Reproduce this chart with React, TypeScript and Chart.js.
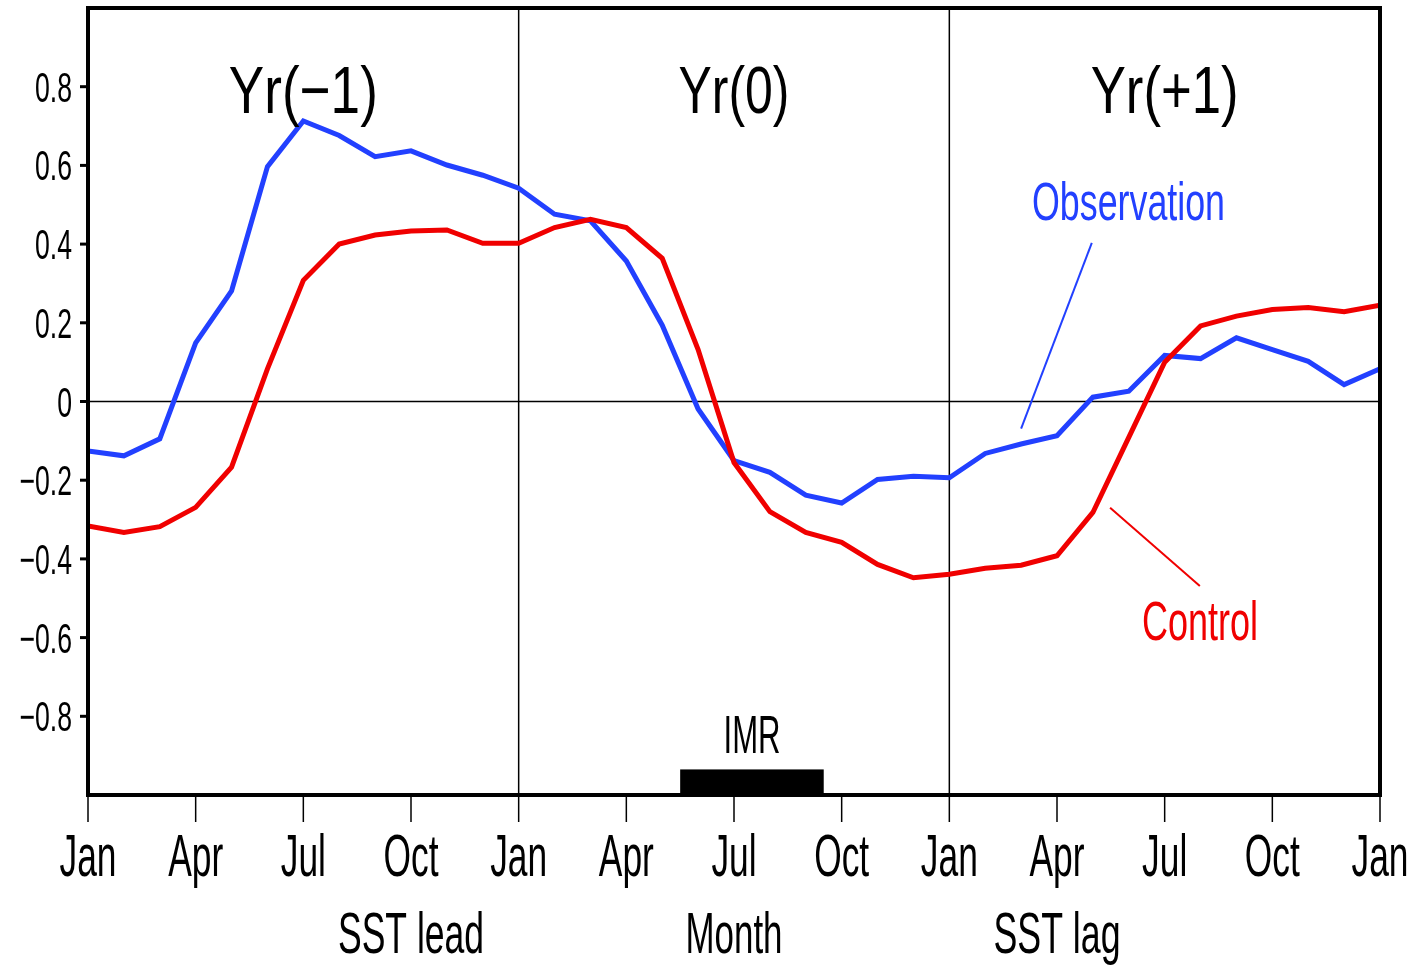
import React, { useEffect, useRef } from "react";
import { Chart, registerables } from "chart.js";

Chart.register(...registerables);

// Month index 0..36: Jan Yr(-1) ... Jan Yr(+2)
const months: number[] = Array.from({ length: 37 }, (_, i) => i);

const observation: number[] = [
  -0.126, -0.138, -0.095, 0.149, 0.281, 0.597, 0.713, 0.676, 0.622, 0.637, 0.601, 0.575,
  0.542, 0.476, 0.459, 0.357, 0.194, -0.019, -0.150, -0.180, -0.238, -0.258, -0.198, -0.190,
  -0.194, -0.132, -0.108, -0.087, 0.011, 0.026, 0.117, 0.109, 0.162, 0.132, 0.102, 0.043,
  0.083,
];

const control: number[] = [
  -0.316, -0.333, -0.318, -0.269, -0.167, 0.083, 0.308, 0.400, 0.423, 0.433, 0.436, 0.402,
  0.402, 0.442, 0.463, 0.442, 0.364, 0.132, -0.155, -0.280, -0.333, -0.358, -0.414, -0.448,
  -0.439, -0.424, -0.416, -0.392, -0.282, -0.091, 0.100, 0.192, 0.217, 0.234, 0.239, 0.228,
  0.245,
];

const xTickMonths: number[] = [0, 3, 6, 9, 12, 15, 18, 21, 24, 27, 30, 33, 36];
const xTickLabels: string[] = ["Jan", "Apr", "Jul", "Oct", "Jan", "Apr", "Jul", "Oct", "Jan", "Apr", "Jul", "Oct", "Jan"];
const yTickValues: number[] = [0.8, 0.6, 0.4, 0.2, 0, -0.2, -0.4, -0.6, -0.8];
const yTickLabels: string[] = ["0.8", "0.6", "0.4", "0.2", "0", "\u22120.2", "\u22120.4", "\u22120.6", "\u22120.8"];

const yearLabels: string[] = ["Yr(\u22121)", "Yr(0)", "Yr(+1)"];
const yearCenters: number[] = [6, 18, 30];
const yearDividers: number[] = [12, 24];
const axisTitles: string[] = ["SST lead", "Month", "SST lag"];
const axisTitleCenters: number[] = [9, 18, 27];

// IMR season bar (months) and its height (correlation units)
const imrRange: number[] = [16.5, 20.5];
const imrTop = -0.935;

const BLUE = "rgb(34,64,255)";
const RED = "rgb(240,0,0)";
const FONT = '"Liberation Sans", Arial, sans-serif';

function fitText(
  ctx: CanvasRenderingContext2D,
  text: string,
  x: number,
  baseline: number,
  capH: number,
  width: number,
  color: string,
  align: CanvasTextAlign
) {
  const px = capH / 0.716;
  ctx.save();
  ctx.font = `${px}px ${FONT}`;
  const w = ctx.measureText(text).width;
  const sx = width / w;
  ctx.translate(x, baseline);
  ctx.scale(sx, 1);
  ctx.textAlign = align;
  ctx.textBaseline = "alphabetic";
  ctx.fillStyle = color;
  ctx.fillText(text, 0, 0);
  ctx.restore();
}

function scaledText(
  ctx: CanvasRenderingContext2D,
  text: string,
  x: number,
  baseline: number,
  capH: number,
  sx: number,
  color: string,
  align: CanvasTextAlign
) {
  const px = capH / 0.716;
  ctx.save();
  ctx.font = `${px}px ${FONT}`;
  ctx.translate(x, baseline);
  ctx.scale(sx, 1);
  ctx.textAlign = align;
  ctx.textBaseline = "alphabetic";
  ctx.fillStyle = color;
  ctx.fillText(text, 0, 0);
  ctx.restore();
}

function sxFor(ctx: CanvasRenderingContext2D, text: string, capH: number, width: number) {
  const px = capH / 0.716;
  ctx.save();
  ctx.font = `${px}px ${FONT}`;
  const w = ctx.measureText(text).width;
  ctx.restore();
  return width / w;
}

const decorPlugin = {
  id: "decor",
  beforeDatasetsDraw(chart: any) {
    const { ctx, chartArea: a, scales } = chart;
    const xs = scales.x;
    const ys = scales.y;
    ctx.save();
    ctx.strokeStyle = "#000";
    ctx.lineWidth = 1.5;
    // zero line
    const y0 = ys.getPixelForValue(0);
    ctx.beginPath();
    ctx.moveTo(a.left, y0);
    ctx.lineTo(a.right, y0);
    ctx.stroke();
    // year dividers
    yearDividers.forEach((m) => {
      const px = xs.getPixelForValue(m);
      ctx.beginPath();
      ctx.moveTo(px, a.top);
      ctx.lineTo(px, a.bottom);
      ctx.stroke();
    });
    // IMR bar
    const bx0 = xs.getPixelForValue(imrRange[0]);
    const bx1 = xs.getPixelForValue(imrRange[1]);
    const by0 = ys.getPixelForValue(imrTop);
    const by1 = ys.getPixelForValue(-1);
    ctx.fillStyle = "#000";
    ctx.fillRect(bx0, by0, bx1 - bx0, by1 - by0);
    // pointer lines
    ctx.lineWidth = 2;
    ctx.strokeStyle = BLUE;
    ctx.beginPath();
    ctx.moveTo(xs.getPixelForValue(27.97), ys.getPixelForValue(0.403));
    ctx.lineTo(xs.getPixelForValue(26.0), ys.getPixelForValue(-0.069));
    ctx.stroke();
    ctx.strokeStyle = RED;
    ctx.beginPath();
    ctx.moveTo(xs.getPixelForValue(28.48), ys.getPixelForValue(-0.27));
    ctx.lineTo(xs.getPixelForValue(30.98), ys.getPixelForValue(-0.469));
    ctx.stroke();
    ctx.restore();
  },
  afterDatasetsDraw(chart: any) {
    const { ctx, chartArea: a, scales } = chart;
    const xs = scales.x;
    const ys = scales.y;
    ctx.save();
    // frame
    ctx.strokeStyle = "#000";
    ctx.lineWidth = 4;
    ctx.strokeRect(a.left, a.top, a.right - a.left, a.bottom - a.top);
    // y ticks
    ctx.lineWidth = 3;
    yTickValues.forEach((v) => {
      const py = ys.getPixelForValue(v);
      ctx.beginPath();
      ctx.moveTo(a.left - 8, py);
      ctx.lineTo(a.left, py);
      ctx.stroke();
    });
    // x ticks
    ctx.lineWidth = 1.5;
    xTickMonths.forEach((m) => {
      const px = xs.getPixelForValue(m);
      ctx.beginPath();
      ctx.moveTo(px, a.bottom);
      ctx.lineTo(px, a.bottom + 27);
      ctx.stroke();
    });
    ctx.restore();

    // y tick labels
    const ySx = sxFor(ctx, "0.8", 30, 37);
    yTickValues.forEach((v, i) => {
      const py = ys.getPixelForValue(v);
      scaledText(ctx, yTickLabels[i], 72, py + 15, 30, ySx, "#000", "right");
    });
    // x tick labels
    const xSx = sxFor(ctx, "Jan", 43, 57);
    xTickMonths.forEach((m, i) => {
      const px = xs.getPixelForValue(m);
      scaledText(ctx, xTickLabels[i], px, 876, 43, xSx, "#000", "center");
    });
    // axis titles
    const titleWidths = [146, 97, 127];
    axisTitles.forEach((t, i) => {
      fitText(ctx, t, xs.getPixelForValue(axisTitleCenters[i]), 953, 41, titleWidths[i], "#000", "center");
    });
    // year labels
    const yrWidths = [149, 111, 148];
    yearLabels.forEach((t, i) => {
      fitText(ctx, t, xs.getPixelForValue(yearCenters[i]), 113, 48, yrWidths[i], "#000", "center");
    });
    // series labels
    fitText(ctx, "Observation", 1032, 220, 38, 193, BLUE, "left");
    fitText(ctx, "Control", 1142, 640, 40, 116, RED, "left");
    fitText(ctx, "IMR", 752, 753, 38, 57, "#000", "center");
  },
};

export default function App() {
  const ref = useRef<HTMLCanvasElement | null>(null);
  useEffect(() => {
    document.body.style.margin = "0";
    const canvas = ref.current;
    if (!canvas) return;
    const chart = new Chart(canvas, {
      type: "line",
      data: {
        datasets: [
          {
            label: "Control",
            data: months.map((m, i) => ({ x: m, y: control[i] })),
            borderColor: RED,
            borderWidth: 5,
            pointRadius: 0,
            tension: 0,
            fill: false,
          },
          {
            label: "Observation",
            data: months.map((m, i) => ({ x: m, y: observation[i] })),
            borderColor: BLUE,
            borderWidth: 5,
            pointRadius: 0,
            tension: 0,
            fill: false,
          },
        ],
      },
      options: {
        responsive: false,
        animation: false,
        devicePixelRatio: 1,
        layout: { padding: { left: 88, right: 36, top: 8, bottom: 171 } },
        plugins: { legend: { display: false }, tooltip: { enabled: false }, title: { display: false } },
        scales: {
          x: { type: "linear", min: 0, max: 36, display: false },
          y: { type: "linear", min: -1, max: 1, display: false },
        },
      },
      plugins: [decorPlugin],
    });
    return () => chart.destroy();
  }, []);
  return <canvas ref={ref} width={1416} height={966} style={{ display: "block", width: 1416, height: 966 }} />;
}
